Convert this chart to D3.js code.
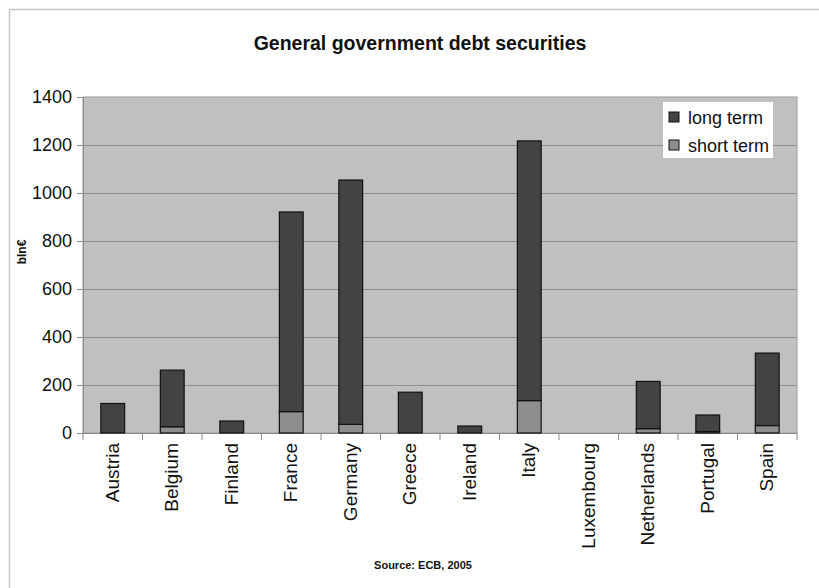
<!DOCTYPE html>
<html>
<head>
<meta charset="utf-8">
<script src="https://cdn.jsdelivr.net/npm/d3@7"></script>
<style>
  html, body { margin: 0; padding: 0; background: #fff; }
  svg { display: block; font-family: "Liberation Sans", Arial, sans-serif; }
</style>
</head>
<body>
<svg id="chart" width="819" height="588"></svg>
<script>
const categories = ["Austria", "Belgium", "Finland", "France", "Germany", "Greece", "Ireland", "Italy", "Luxembourg", "Netherlands", "Portugal", "Spain"];
const shortTerm = [0, 26, 0, 89, 36, 0, 0, 135, 0, 18, 6, 31];
const longTerm = [123, 236, 50, 832, 1018, 170, 29, 1082, 0, 197, 69, 302];
const seriesNames = ["long term", "short term"];
const yTicks = [0, 200, 400, 600, 800, 1000, 1200, 1400];

const colors = { long: "#434343", short: "#8e8e8e" };

const svg = d3.select("#chart");
const W = 819, H = 588;
const plot = { left: 83, right: 797, top: 97, bottom: 433 };

// outer frame lines (top and left only)
svg.append("line").attr("x1", 9.5).attr("x2", W).attr("y1", 9.5).attr("y2", 9.5)
  .attr("stroke", "#c4c4c4").attr("stroke-width", 1.5);
svg.append("line").attr("x1", 9.5).attr("x2", 9.5).attr("y1", 9.5).attr("y2", H)
  .attr("stroke", "#c4c4c4").attr("stroke-width", 1.5);

const x = d3.scaleBand().domain(categories).range([plot.left, plot.right])
  .paddingInner(0.6).paddingOuter(0.3);
const y = d3.scaleLinear().domain([0, 1400]).range([plot.bottom, plot.top]);

// plot background
svg.append("rect").attr("x", plot.left).attr("y", plot.top)
  .attr("width", plot.right - plot.left).attr("height", plot.bottom - plot.top)
  .attr("fill", "#c0c0c0").attr("stroke", "#9a9a9a").attr("stroke-width", 1);

// gridlines
svg.append("g").selectAll("line").data(yTicks.filter(d => d > 0 && d < 1400)).join("line")
  .attr("x1", plot.left).attr("x2", plot.right)
  .attr("y1", d => Math.round(y(d)) + 0.5).attr("y2", d => Math.round(y(d)) + 0.5)
  .attr("stroke", "#8f8f8f").attr("stroke-width", 1);

// y axis
const yAxis = d3.axisLeft(y).tickValues(yTicks).tickSize(6).tickPadding(5).tickFormat(d3.format("d"));
const gy = svg.append("g").attr("transform", `translate(${plot.left},0)`).call(yAxis);
gy.select(".domain").attr("stroke", "#8a8a8a");
gy.selectAll(".tick line").attr("stroke", "#8a8a8a");
gy.selectAll(".tick text").attr("font-size", 18).attr("fill", "#111")
  .attr("font-family", "'Liberation Sans', Arial, sans-serif");

// x axis: ticks at category boundaries
const step = x.step();
const boundaries = d3.range(categories.length + 1).map(i => plot.left + i * step);
svg.append("line").attr("x1", plot.left).attr("x2", plot.right)
  .attr("y1", plot.bottom + 0.5).attr("y2", plot.bottom + 0.5).attr("stroke", "#8a8a8a");
svg.append("g").selectAll("line").data(boundaries).join("line")
  .attr("x1", d => d).attr("x2", d => d)
  .attr("y1", plot.bottom).attr("y2", plot.bottom + 7)
  .attr("stroke", "#8a8a8a");

// x labels
svg.append("g").selectAll("text").data(categories).join("text")
  .attr("transform", d => `translate(${x(d) + x.bandwidth() / 2 + 6},${plot.bottom + 10}) rotate(-90)`)
  .attr("text-anchor", "end")
  .attr("font-size", 19).attr("fill", "#111")
  .text(d => d);

// stacked bars
const rows = categories.map((c, i) => ({ cat: c, short: shortTerm[i], long: longTerm[i] }));
const stack = d3.stack().keys(["short", "long"])(rows);
svg.append("g").selectAll("g").data(stack).join("g")
  .attr("fill", s => colors[s.key])
  .selectAll("rect").data(s => s.filter(d => d[1] - d[0] > 0)).join("rect")
  .attr("x", d => x(d.data.cat))
  .attr("width", x.bandwidth())
  .attr("y", d => y(d[1]))
  .attr("height", d => y(d[0]) - y(d[1]))
  .attr("stroke", "#111").attr("stroke-width", 1.2);

// legend
const lg = svg.append("g").attr("transform", "translate(663,102)");
lg.append("rect").attr("width", 110).attr("height", 56).attr("fill", "#fff");
const legendItems = [{ name: seriesNames[0], c: colors.long }, { name: seriesNames[1], c: colors.short }];
const li = lg.selectAll("g.item").data(legendItems).join("g")
  .attr("transform", (d, i) => `translate(6,${16 + i * 28})`);
li.append("rect").attr("x", 0).attr("y", -6).attr("width", 10).attr("height", 10)
  .attr("fill", d => d.c).attr("stroke", "#111").attr("stroke-width", 1);
li.append("text").attr("x", 19).attr("y", 0).attr("dy", "0.35em")
  .attr("font-size", 18).attr("fill", "#111").text(d => d.name);

// title
svg.append("text").attr("x", 420).attr("y", 50).attr("text-anchor", "middle")
  .attr("font-size", 19.5).attr("font-weight", "bold").attr("fill", "#111")
  .text("General government debt securities");

// y axis label
svg.append("text").attr("transform", "translate(26,252) rotate(-90)")
  .attr("text-anchor", "middle").attr("font-size", 12).attr("font-weight", "bold").attr("fill", "#111")
  .text("bln€");

// source
svg.append("text").attr("x", 423).attr("y", 569).attr("text-anchor", "middle")
  .attr("font-size", 11).attr("font-weight", "bold").attr("fill", "#111")
  .text("Source: ECB, 2005");
</script>
</body>
</html>
